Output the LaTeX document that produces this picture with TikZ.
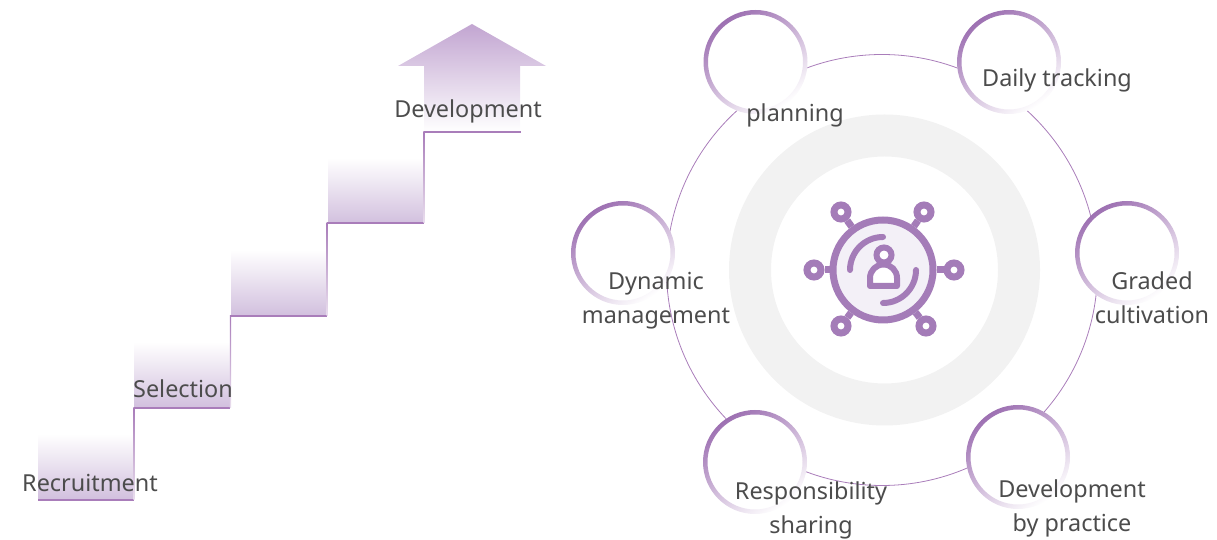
\documentclass[tikz,border=0pt]{standalone}
\usepackage{fontspec}
\setmainfont{Noto Sans}
\usepackage{tikz}
\usetikzlibrary{calc}

\definecolor{stepline}{HTML}{A97DBA}
\definecolor{stepfill}{HTML}{D2C0DE}
\definecolor{arrowfill}{HTML}{C2A5D1}
\definecolor{ringcolor}{HTML}{9D70B2}
\definecolor{iconcolor}{HTML}{A47CB8}
\definecolor{iconfill}{HTML}{F3F0F7}
\definecolor{textgray}{HTML}{4C4C4C}
\definecolor{grayring}{HTML}{F2F2F2}

\tikzset{
    x=1pt, y=1pt,
    label text/.style={text=textgray, font=\fontsize{23.4}{34}\selectfont, align=center, inner sep=0pt},
    step fill/.style={bottom color=stepfill, top color=white},
    step tread/.style={stepline, line width=1.3pt},
    step riser/.style={top color=stepline, bottom color=stepline!25, draw=none},
    ring disc/.style={circle, fill=white, minimum size=104pt, inner sep=0pt},
    ring shade/.style={even odd rule, left color=ringcolor, right color=white, shading angle=35},
    icon line/.style={draw=iconcolor, line width=7pt},
    icon sat/.style={circle, icon line, fill=white, minimum size=14pt, inner sep=0pt},
}

\begin{document}
\begin{tikzpicture}
    \useasboundingbox (0,0) rectangle (1217,540);

    % stairs
    \shade[step fill] (38,41) rectangle (134,106);
    \shade[step fill] (134,133) rectangle (230,198);
    \shade[step fill] (231,225) rectangle (327,290);
    \shade[step fill] (328,317) rectangle (424,382);
    \shade[top color=arrowfill, bottom color=white] (472,516) -- (546,474) -- (520,474) -- (520,408) -- (424,408) -- (424,474) -- (398,474) -- cycle;

    \draw[step tread] (38,40)--(134,40);
    \draw[step tread] (134,132)--(230,132);
    \draw[step tread] (231,224)--(327,224);
    \draw[step tread] (328,317)--(424,317);
    \draw[step tread] (424,408)--(521,408);

    \shade[step riser] (133.3,40) rectangle (134.7,132);
    \shade[step riser] (229.8,132) rectangle (231.2,224);
    \shade[step riser] (326.5,224) rectangle (327.9,317);
    \shade[step riser] (423.4,317) rectangle (424.8,408);

    % background circles
    \fill[grayring, even odd rule] (884.5,270) circle (155.5) (884.5,270) circle (113.5);
    \node[circle, draw=stepline, line width=0.8pt, minimum size=431pt, inner sep=0pt] (orbit) at (882,270) {};

    % rings
    \node[ring disc] (planning) at (755.5,478) {};
    \node[ring disc] (daily) at (1009,478) {};
    \node[ring disc] (graded) at (1127,287) {};
    \node[ring disc] (practice) at (1018,83) {};
    \node[ring disc] (sharing) at (755,78) {};
    \node[ring disc] (dynamic) at (623,287) {};
    \shade[ring shade] (planning.center) circle (52) (planning.center) circle (47.5);
    \shade[ring shade] (daily.center) circle (52) (daily.center) circle (47.5);
    \shade[ring shade] (graded.center) circle (52) (graded.center) circle (47.5);
    \shade[ring shade] (practice.center) circle (52) (practice.center) circle (47.5);
    \shade[ring shade] (sharing.center) circle (52) (sharing.center) circle (47.5);
    \shade[ring shade] (dynamic.center) circle (52) (dynamic.center) circle (47.5);

    % icon
    \node[circle, icon line, fill=iconfill, minimum size=100pt, inner sep=0pt] (hub) at (883,270) {};
    \node[icon sat] (sat1) at (841,328) {};
    \node[icon sat] (sat2) at (924,328) {};
    \node[icon sat] (sat3) at (814,270) {};
    \node[icon sat] (sat4) at (954,270) {};
    \node[icon sat] (sat5) at (841,214) {};
    \node[icon sat] (sat6) at (926,214) {};
    \draw[icon line] (hub)--(sat1);
    \draw[icon line] (hub)--(sat2);
    \draw[icon line] (hub)--(sat3);
    \draw[icon line] (hub)--(sat4);
    \draw[icon line] (hub)--(sat5);
    \draw[icon line] (hub)--(sat6);
    \draw[icon line, line width=6pt, line cap=round] ([shift={(90:33)}]hub.center) arc (90:180:33);
    \draw[icon line, line width=6pt, line cap=round] ([shift={(0:33)}]hub.center) arc (0:-90:33);
    \draw[icon line, line width=6pt, fill=white, line join=round] (870,254) -- (870,262) arc (180:0:13.5) -- (897,254) -- cycle;
    \node[circle, icon line, line width=6pt, fill=white, minimum size=15pt, inner sep=0pt] (head) at (884,285) {};

    % labels
    \node[label text] (lbl1) at (90,57) {Recruitment};
    \node[label text] (lbl2) at (183,151) {Selection};
    \node[label text] (lbl3) at (468,429) {Development};
    \node[label text] (lbl4) at (795,425) {planning};
    \node[label text] (lbl5) at (1057,460) {Daily tracking};
    \node[label text] (lbl6) at (1152,242) {Graded\\cultivation};
    \node[label text] (lbl7) at (1072,32) {Development\\by practice};
    \node[label text] (lbl8) at (811,30) {Responsibility\\sharing};
    \node[label text] (lbl9) at (656,239) {Dynamic\\management};
\end{tikzpicture}
\end{document}
